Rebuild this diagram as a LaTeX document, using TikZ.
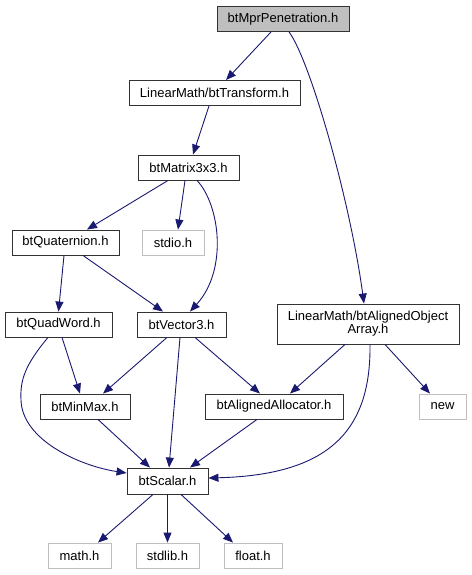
\documentclass[tikz,border=0pt]{standalone}
\usepackage{fontspec}
\setmainfont{Liberation Sans}
\usetikzlibrary{arrows.meta}
\definecolor{edgeblue}{HTML}{191970}
\definecolor{sysgray}{HTML}{BFBFBF}
\begin{document}
\begin{tikzpicture}[x=1pt,y=-1pt,
  box/.style={draw=black!80,line width=0.9pt,fill=white,minimum height=25pt,inner sep=0pt,font=\fontsize{13}{14}\selectfont,align=center},
  sysbox/.style={box,draw=sysgray},
  topbox/.style={box,fill=sysgray},
  dep/.style={draw=edgeblue,line width=0.9pt,-{Triangle[length=10pt,width=8pt]}}]
\useasboundingbox (0,0) rectangle (471,575);
\node[topbox,minimum width=132pt] (mpr) at (283,19) {btMprPenetration.h};
\node[box,minimum width=171pt] (tr) at (214.5,93) {LinearMath/btTransform.h};
\node[box,minimum width=101pt] (mx) at (188.5,167.5) {btMatrix3x3.h};
\node[box,minimum width=107pt] (qt) at (65.5,242.5) {btQuaternion.h};
\node[sysbox,minimum width=62pt] (stdio) at (173,242.5) {stdio.h};
\node[box,minimum width=107pt] (qw) at (58.5,324.5) {btQuadWord.h};
\node[box,minimum width=89pt] (v3) at (181.5,324.5) {btVector3.h};
\node[box,minimum width=182pt,minimum height=40pt] (arr) at (368,324) {LinearMath/btAlignedObject\\[-1pt]Array.h};
\node[box,minimum width=90pt] (mm) at (85,406.5) {btMinMax.h};
\node[box,minimum width=138pt] (al) at (274,406.5) {btAlignedAllocator.h};
\node[sysbox,minimum width=47pt] (new) at (442.5,406.5) {new};
\node[box,minimum width=81pt,minimum height=26pt] (sc) at (167.5,481) {btScalar.h};
\node[sysbox,minimum width=63pt] (math) at (79.5,555.5) {math.h};
\node[sysbox,minimum width=63pt] (stdlib) at (167.5,555.5) {stdlib.h};
\node[sysbox,minimum width=58pt] (float) at (253,555.5) {float.h};

\path[dep] ([xshift=-12pt]mpr.south) -- ([xshift=11.5pt]tr.north);
\path[dep] ([xshift=6pt]mpr.south) .. controls (310,60) and (350,200) .. ([xshift=-4pt]arr.north);
\path[dep] ([xshift=-5.5pt]tr.south) -- ([xshift=4.5pt]mx.north);
\path[dep] ([xshift=-20.5pt]mx.south) -- ([xshift=21.5pt]qt.north);
\path[dep] ([xshift=-3.5pt]mx.south) -- ([xshift=5pt]stdio.north);
\path[dep] ([xshift=8.5pt]mx.south) .. controls (220,205) and (228,270) .. ([xshift=8.5pt]v3.north);
\path[dep] ([xshift=-1.5pt]qt.south) -- (qw.north);
\path[dep] ([xshift=17.5pt]qt.south) -- ([xshift=-18.5pt]v3.north);
\path[dep] ([xshift=3.5pt]qw.south) -- ([xshift=-5pt]mm.north);
\path[dep] ([xshift=-10.5pt]qw.south) .. controls (25,365) and (20,380) .. (21,400) .. controls (22,440) and (80,466) .. ([yshift=8pt]sc.west);
\path[dep] ([xshift=-14.5pt]v3.south) -- ([xshift=18pt]mm.north);
\path[dep] ([xshift=-1.5pt]v3.south) -- ([xshift=1.5pt]sc.north);
\path[dep] ([xshift=13.5pt]v3.south) -- ([xshift=-14pt]al.north);
\path[dep] ([xshift=-23pt]arr.south) -- ([xshift=16pt]al.north);
\path[dep] ([xshift=2pt]arr.south) .. controls (371,430) and (330,475) .. ([yshift=3pt]sc.east);
\path[dep] ([xshift=17pt]arr.south) -- ([xshift=-12.5pt]new.north);
\path[dep] ([xshift=13pt]mm.south) -- ([xshift=-17.5pt]sc.north);
\path[dep] ([xshift=-17pt]al.south) -- ([xshift=22.5pt]sc.north);
\path[dep] ([xshift=-14.5pt]sc.south) -- ([xshift=18.5pt]math.north);
\path[dep] (sc.south) -- (stdlib.north);
\path[dep] ([xshift=13.5pt]sc.south) -- ([xshift=-20pt]float.north);
\end{tikzpicture}
\end{document}
